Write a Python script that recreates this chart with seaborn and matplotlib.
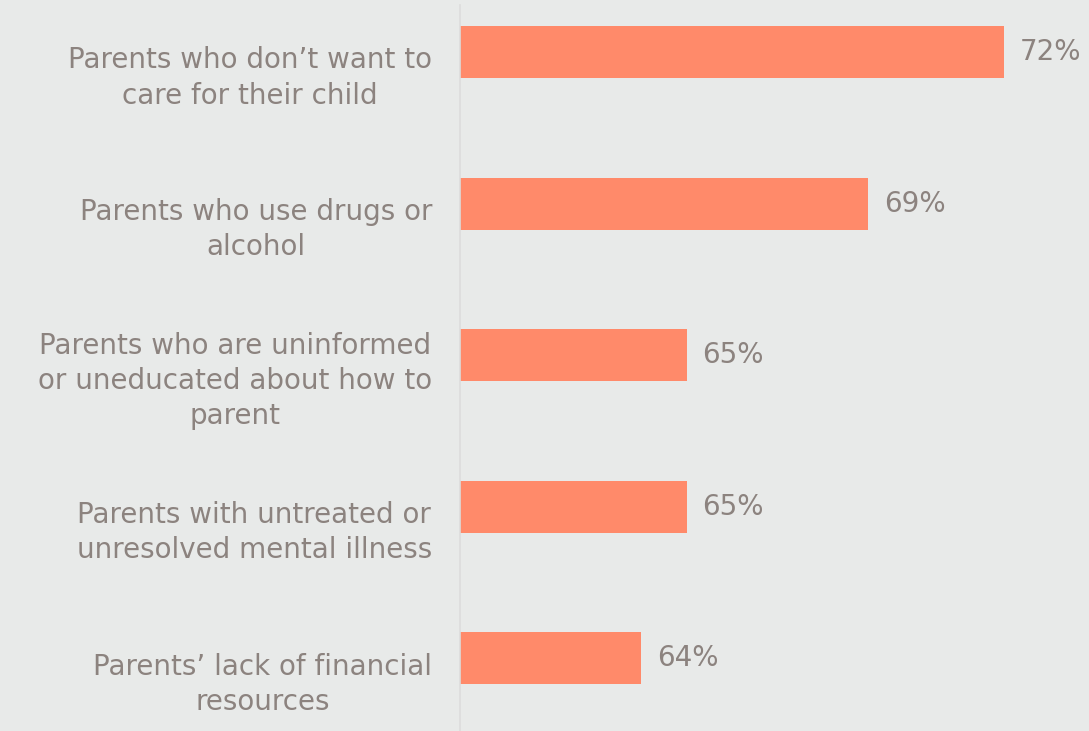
import matplotlib
matplotlib.use("Agg")
import matplotlib.pyplot as plt
import seaborn as sns
import pandas as pd

categories = [
    "Parents who don\u2019t want to\ncare for their child",
    "Parents who use drugs or\nalcohol",
    "Parents who are uninformed\nor uneducated about how to\nparent",
    "Parents with untreated or\nunresolved mental illness",
    "Parents\u2019 lack of financial\nresources",
]
values = [72, 69, 65, 65, 64]
value_labels = ["72%", "69%", "65%", "65%", "64%"]

BG = "#E8EAE9"
BAR = "#FF8A6A"
TXT = "#8C837F"

sns.set_theme(style="white")
plt.rcParams["font.family"] = ["DejaVu Sans"]

df = pd.DataFrame({"cat": categories, "val": values})

fig = plt.figure(figsize=(10.89, 7.31), dpi=100)
fig.patch.set_facecolor(BG)
ax = fig.add_axes([460 / 1089, 0.0, 1 - 460 / 1089, 1 - 5 / 731])
ax.set_facecolor(BG)

sns.barplot(data=df, x="val", y="cat", color=BAR, width=0.343, ax=ax,
            saturation=1, orient="h", linewidth=0)

ax.set_xlim(60, 60 + 629 / 45.3)
ax.set_ylim(4.48, -0.31)
ax.set_xlabel("")
ax.set_ylabel("")
ax.set_xticks([])
ax.set_yticklabels([])
ax.tick_params(axis="y", length=0)
for s in ["top", "right", "bottom"]:
    ax.spines[s].set_visible(False)
ax.spines["left"].set_color("#DCDCDC")
ax.spines["left"].set_linewidth(1.2)

for i, cat in enumerate(categories):
    ax.annotate(cat, xy=(0, i), xycoords=("axes fraction", "data"),
                xytext=(-28, -26), textcoords="offset pixels",
                ha="right", va="center", multialignment="center",
                linespacing=1.33, fontsize=20, color=TXT,
                annotation_clip=False)

for i, (v, lab) in enumerate(zip(values, value_labels)):
    ax.text(v + 16 / 45.3, i, lab, va="center", ha="left",
            fontsize=20, color=TXT)

fig.savefig("out.png", dpi=100, facecolor=BG)
